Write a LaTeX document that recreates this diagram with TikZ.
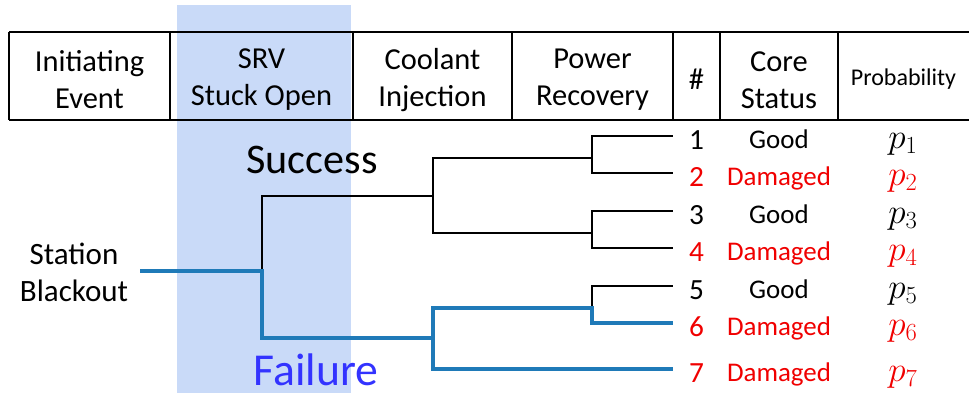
\RequirePackage{fix-cm}
\documentclass[tikz,border=0pt]{standalone}
\usepackage{fontspec}
\setmainfont{Carlito}
\definecolor{bandblue}{RGB}{201,218,248}
\definecolor{pathblue}{RGB}{31,122,184}
\definecolor{failblue}{RGB}{51,51,255}
\definecolor{dmgred}{RGB}{240,0,0}

\begin{document}
\begin{tikzpicture}[x=.03cm,y=-.03cm]
\tikzset{head/.style={align=center,font=\fontsize{26}{31.5}\selectfont},
 rule/.style={line width=1.1pt},
 branch/.style={line width=1.3pt},
 fail/.style={line width=3.4pt,draw=pathblue},
 row/.style={anchor=base,font=\fontsize{23}{28}\selectfont}}
\useasboundingbox (0,0) rectangle (969,393);
\fill[bandblue] (177,5) rectangle (351,393);
% table head
\draw[rule] (9,32)--(969,32) (9,120)--(969,120);
\foreach \x in {9,170,353,512,673,720,838}{\draw[rule] (\x,32)--(\x,120);}
\node[head] (ie) at (89.5,80) {Initiating\\Event};
\node[head] (srv) at (261.5,80) {SRV\\Stuck Open};
\node[head] (ci) at (432.5,80) {Coolant\\Injection};
\node[head] (pr) at (592.5,80) {Power\\Recovery};
\node[head] (num) at (696.5,79) {\#};
\node[head] (cs) at (779,80) {Core\\Status};
\node[head,font=\fontsize{20.5}{24}\selectfont] (prob) at (903.5,79) {Probability};
% tree
\node[align=center,font=\fontsize{26.5}{31.5}\selectfont] (sbo) at (74,272) {Station\\Blackout};
\node[anchor=base,font=\fontsize{36}{40}\selectfont] (succ) at (312,173) {Success};
\node[anchor=base,inner sep=0pt,text=failblue,font=\fontsize{39}{44}\selectfont] (failtxt) at (316,385) {Failure};
\coordinate (j0) at (140,271);
\coordinate (jsrv) at (262,271);
\coordinate (jciS) at (433,196);
\coordinate (jciF) at (433,338);
\coordinate (jpr1) at (592,158);
\coordinate (jpr2) at (592,233);
\coordinate (jpr3) at (592,308);
\foreach \i/\y/\st/\c in {1/136/Good/black,2/173/Damaged/dmgred,3/211/Good/black,
 4/248/Damaged/dmgred,5/286/Good/black,6/323/Damaged/dmgred,7/369/Damaged/dmgred}{
 \coordinate (end\i) at (673,\y);
 \node[row,text=\c,font=\fontsize{25}{30}\selectfont] (num\i) at (696.5,\y+13) {\i};
 \node[row,text=\c] (st\i) at (779,\y+12.5) {\st};
 \node[row,text=\c,font=\fontsize{30}{34}\selectfont] (p\i) at (903,\y+12) {$p_{\i}$};
}
\draw[branch] (jsrv) |- (jciS);
\draw[branch] (jciS) |- (jpr1);
\draw[branch] (jciS) |- (jpr2);
\foreach \a/\b in {1/1,1/2,2/3,2/4,3/5}{\draw[branch] (jpr\a) |- (end\b);}
% failure path
\draw[fail] (j0) -- (jsrv) |- (jciF) |- (jpr3) |- (end6);
\draw[fail] (jciF) |- (end7);
\end{tikzpicture}
\end{document}
